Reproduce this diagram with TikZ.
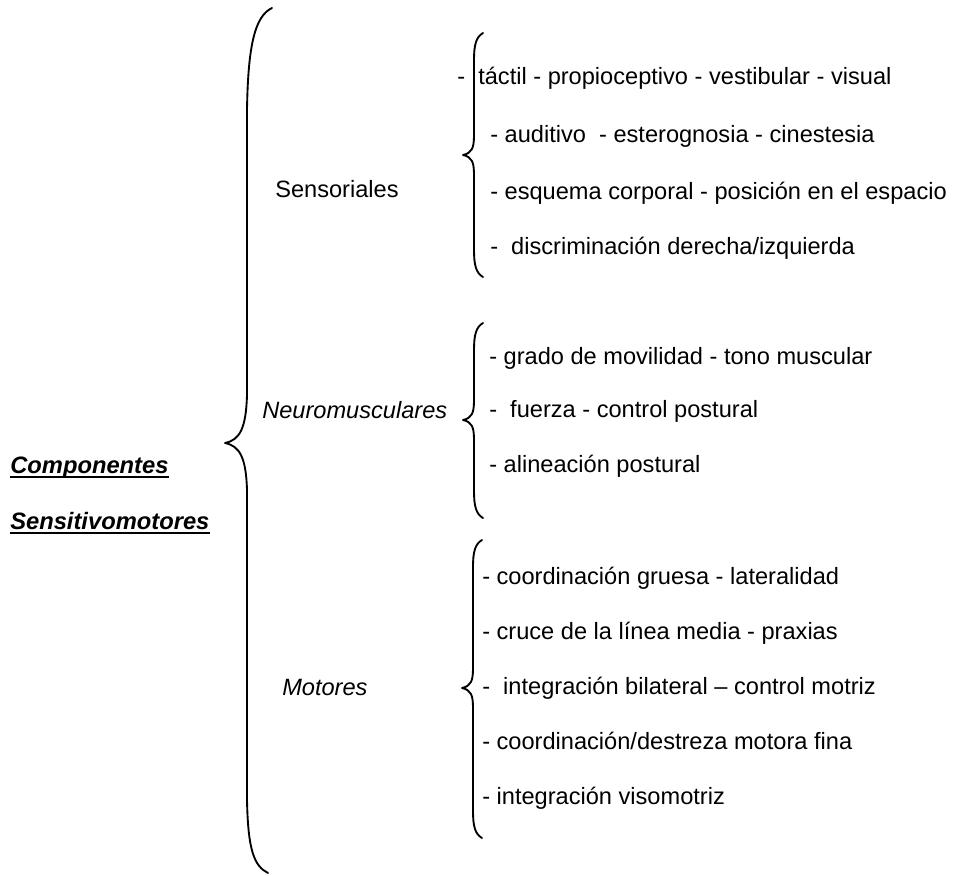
\documentclass[tikz,border=0pt]{standalone}
\usepackage{fontspec}
\setmainfont{Liberation Sans}
\newcommand{\smallbrace}[4]{% x, top, tip, bottom
  \draw[brace] (#1+9,#2) .. controls (#1+2,#2+4) and (#1,#2+12) .. (#1,#2+27)
    -- (#1,#3-20) .. controls (#1,#3-7) and (#1-2,#3-2) .. (#1-11,#3)
    .. controls (#1-2,#3+2) and (#1,#3+7) .. (#1,#3+20)
    -- (#1,#4-27) .. controls (#1,#4-12) and (#1+2,#4-4) .. (#1+9,#4);}
\begin{document}
\begin{tikzpicture}[x=0.75pt,y=-0.75pt,
  brace/.style={line width=1.4pt,line cap=round,line join=round},
  txt/.style={anchor=base west,inner sep=0pt,font=\fontsize{17.7}{20}\selectfont},
  cat/.style={txt,font=\fontsize{17.7}{20}\selectfont\itshape},
  head/.style={txt,font=\fontsize{17.8}{20}\selectfont\bfseries\itshape},
  uline/.style={line width=1.5pt}]
\useasboundingbox (0,0) rectangle (956,875);
% big brace
\draw[brace] (272,8) .. controls (255,16) and (248,45) .. (247,110)
  -- (247,395) .. controls (246,428) and (240,440) .. (225,443)
  .. controls (240,446) and (246,458) .. (247,490)
  -- (247,800) .. controls (248,850) and (254,866) .. (268,873);
% small braces
\smallbrace{474}{33}{155}{277}
\smallbrace{474}{323}{420}{518}
\smallbrace{473}{540}{688}{838}
% heading
\node[head] (comp) at (10,473) {Componentes};
\node[head] (sens) at (10,529) {Sensitivomotores};
\draw[uline] ([yshift=-3pt]comp.base west) -- ([yshift=-3pt]comp.base east);
\draw[uline] ([yshift=-3pt]sens.base west) -- ([yshift=-3pt]sens.base east);
% categories
\node[txt] (csens) at (275,197) {Sensoriales};
\node[cat] (cneuro) at (262,418) {Neuromusculares};
\node[cat] (cmot) at (282,695) {Motores};
% sensoriales items
\node[txt] (d1) at (457,84) {-};
\node[txt] (s1) at (478,84) {táctil - propioceptivo - vestibular - visual};
\node[txt] (s2) at (490,142) {- auditivo\ \ - esterognosia - cinestesia};
\node[txt] (s3) at (490,199) {- esquema corporal - posición en el espacio};
\node[txt] (s4) at (490,254) {-\ \ discriminación derecha/izquierda};
% neuromusculares items
\node[txt] (n1) at (489,364) {- grado de movilidad - tono muscular};
\node[txt] (n2) at (489,417) {-\ \ fuerza - control postural};
\node[txt] (n3) at (489,472) {- alineación postural};
% motores items
\node[txt] (m1) at (482,584) {- coordinación gruesa - lateralidad};
\node[txt] (m2) at (482,639) {- cruce de la línea media - praxias};
\node[txt] (m3) at (482,694) {-\ \ integración bilateral – control motriz};
\node[txt] (m4) at (482,749) {- coordinación/destreza motora fina};
\node[txt] (m5) at (482,804) {- integración visomotriz};
\end{tikzpicture}
\end{document}
